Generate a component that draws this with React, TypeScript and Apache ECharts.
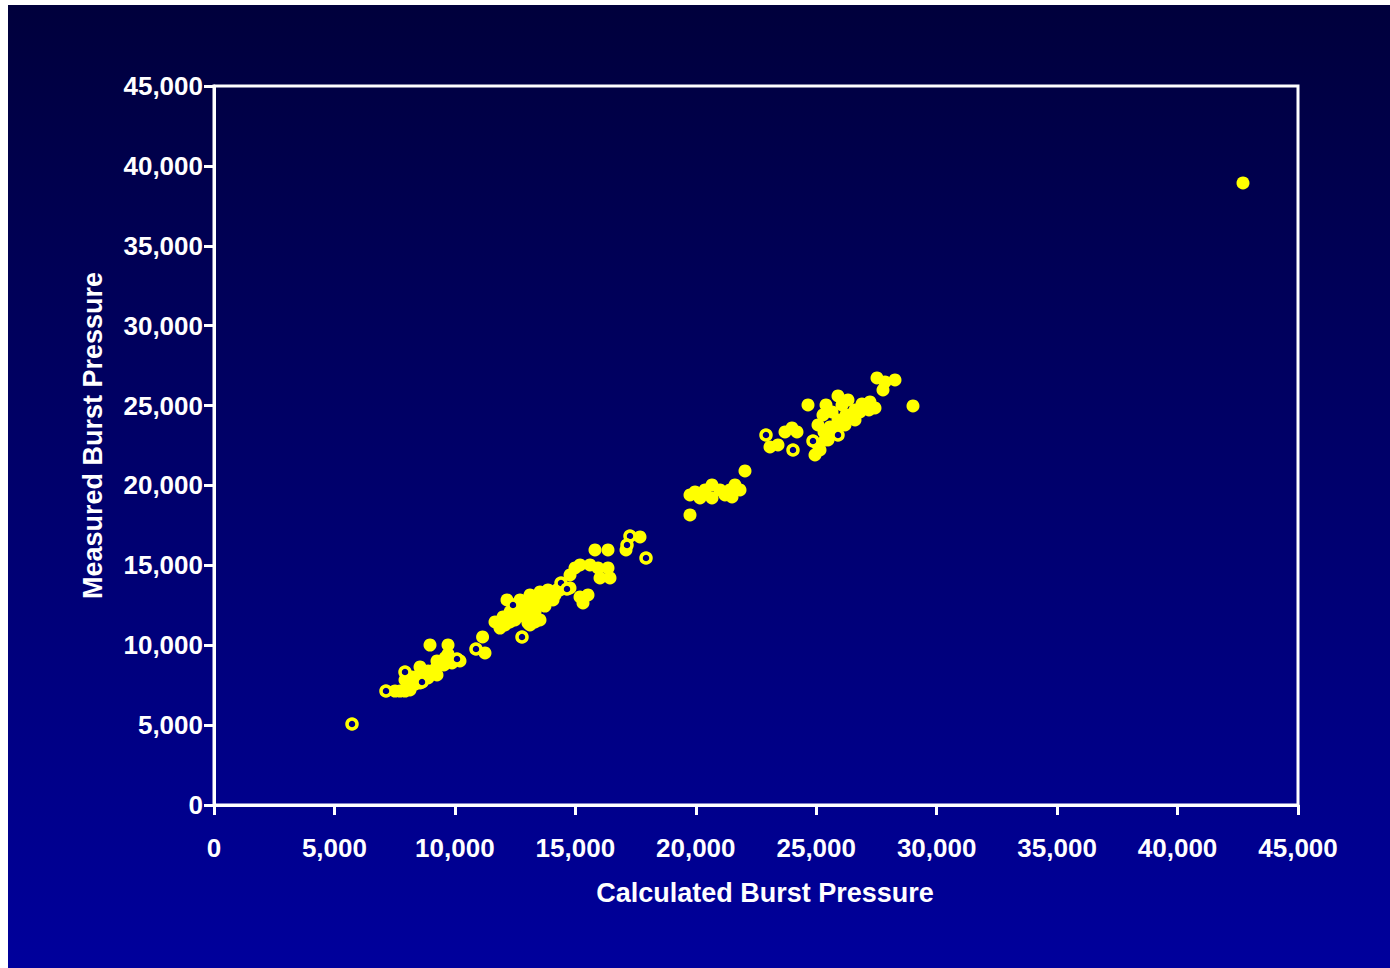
import React, { useEffect, useRef } from "react";
import * as echarts from "echarts";

const xTitle = "Calculated Burst Pressure";
const yTitle = "Measured Burst Pressure";
const axisMin = 0;
const axisMax = 45000;
const axisStep = 5000;

// Solid markers: [calculated, measured]
const solidPoints: number[][] = [
  [7514, 7135], [7721, 7135], [7929, 7135], [8137, 7198],
  [7929, 7824], [8220, 8010], [8552, 8199], [8884, 8387], [9216, 8575],
  [9548, 8763], [9880, 8888], [10212, 9013], [8344, 7573], [8676, 7949],
  [8552, 8637], [8552, 7636], [9257, 9013], [9257, 8137], [8884, 7949],
  [9590, 9201], [8220, 7511],
  [8967, 10014], [9715, 10014], [9715, 9450], [11150, 10515], [11250, 9515],
  [11665, 11454], [11997, 11767], [12288, 12080], [12620, 12330], [12911, 12581],
  [13243, 12831], [13575, 13081], [13948, 13332], [14239, 13457],
  [12080, 11266], [12495, 11579], [12911, 11767], [13326, 12080], [13741, 12455],
  [14073, 12831], [13035, 11391], [12163, 12831],
  [11873, 11078], [12288, 11454], [13533, 12518], [13865, 12956], [14156, 13144],
  [14364, 13457], [13118, 12330], [12703, 12080], [13326, 11454],
  [13533, 13332], [13533, 11579], [13118, 13144], [12703, 12831], [13118, 11266],
  [13865, 13457],
  [14779, 13582], [14779, 14396], [15194, 15022], [15609, 15022], [14986, 14834],
  [15941, 14834], [16356, 14834], [16024, 14208], [16439, 14208],
  [15816, 15960], [16356, 15960], [15194, 13019], [15526, 13144], [15318, 12643],
  [17685, 16774], [17103, 15960],
  [19968, 19591], [20383, 19716], [20673, 20029], [21006, 19716], [21421, 19716],
  [21628, 20029], [20175, 19215], [20673, 19215], [21213, 19403], [21504, 19278],
  [19760, 19403], [21836, 19716],
  [19760, 18151], [22043, 20905],
  [23081, 22407], [23413, 22532], [23704, 23346], [24202, 23346], [23994, 23596],
  [24659, 25036], [25406, 25036],
  [24949, 21907], [25074, 22532], [25323, 23346], [25572, 23659], [25904, 24097],
  [26236, 24410], [26610, 24723], [26900, 25099], [27232, 25224], [27440, 24848],
  [26319, 25349], [25904, 25599], [26070, 25036], [25655, 24598], [26610, 24097],
  [25489, 22845], [25157, 22219],
  [26402, 24410], [26817, 24598], [27191, 24723], [26195, 23784], [25780, 23471],
  [25364, 22845], [25074, 23784], [25281, 24410],
  [27523, 26726], [27855, 26475], [27772, 25975], [28270, 26600],
  [29017, 24974], [42716, 38931],
];

// Hollow markers: [calculated, measured]
const hollowPoints: number[][] = [
  [5729, 5070], [7140, 7135], [7929, 8324], [8635, 7700], [10088, 9138],
  [10876, 9764], [12786, 10515], [12412, 12518], [14405, 13895], [14654, 13520],
  [17269, 16836], [17145, 16273], [17934, 15460],
  [22915, 23158], [24036, 22219], [24866, 22782], [25904, 23158],
];

const fmt = (v: number) => String(v).replace(/\B(?=(\d{3})+(?!\d))/g, ",");

export default function App() {
  const ref = useRef<HTMLDivElement>(null);
  useEffect(() => {
    document.body.style.margin = "0";
    const chart = echarts.init(ref.current!, undefined, { renderer: "svg" });
    const labelStyle = {
      color: "#ffffff",
      fontWeight: "bold" as const,
      fontSize: 26,
      fontFamily: "Liberation Sans, Arial, sans-serif",
    };
    const titleStyle = { ...labelStyle, fontSize: 27 };
    const axisCommon = {
      type: "value" as const,
      min: axisMin,
      max: axisMax,
      interval: axisStep,
      splitLine: { show: false },
      axisLine: { show: true, lineStyle: { color: "#ffffff", width: 3 } },
      axisTick: { show: true, inside: false, length: 10, lineStyle: { color: "#ffffff", width: 3 } },
    };
    chart.setOption({
      animation: false,
      backgroundColor: "transparent",
      grid: {
        left: 206,
        top: 81,
        right: 92,
        bottom: 163,
        show: true,
        borderColor: "#ffffff",
        borderWidth: 3,
        backgroundColor: "transparent",
      },
      xAxis: {
        ...axisCommon,
        name: xTitle,
        nameLocation: "middle",
        nameGap: 74,
        nameTextStyle: { ...titleStyle, padding: [0, 0, 0, 18] },
        axisLabel: { ...labelStyle, margin: 30, formatter: (v: number) => fmt(v) },
      },
      yAxis: {
        ...axisCommon,
        name: yTitle,
        nameLocation: "middle",
        nameGap: 108,
        nameTextStyle: { ...titleStyle, padding: [0, 0, 0, 20] },
        axisLabel: { ...labelStyle, margin: 11, formatter: (v: number) => fmt(v) },
      },
      series: [
        {
          type: "scatter",
          data: solidPoints,
          symbol: "circle",
          symbolSize: 13,
          itemStyle: { color: "#ffff00", opacity: 1 },
        },
        {
          type: "scatter",
          data: hollowPoints,
          symbol: "circle",
          symbolSize: 10,
          itemStyle: { color: "#000080", borderColor: "#ffff00", borderWidth: 3.5, opacity: 1 },
        },
      ],
    });
    return () => chart.dispose();
  }, []);
  return (
    <div
      ref={ref}
      style={{
        position: "absolute",
        left: 8,
        top: 5,
        width: 1382,
        height: 963,
        background: "linear-gradient(to bottom, #00003c 0%, #00006c 50%, #00009c 100%)",
      }}
    />
  );
}
